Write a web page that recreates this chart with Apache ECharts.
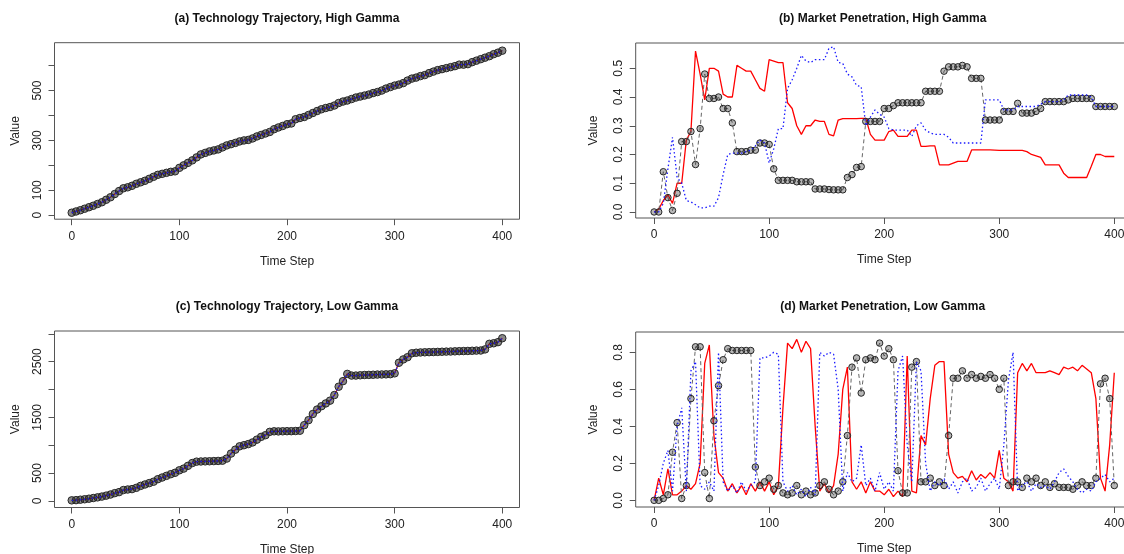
<!DOCTYPE html>
<html>
<head>
<meta charset="utf-8">
<script src="https://cdn.jsdelivr.net/npm/echarts@6/dist/echarts.min.js"></script>
<style>
  html, body { margin: 0; padding: 0; background: #fff; }
  #chart { width: 1124px; height: 554px; }
</style>
</head>
<body>
<div id="chart"></div>
<script>
// values sampled every 4 time steps (t = 0, 4, ..., 400)
const STEP = 4

// (a) technology trajectory, high gamma
const techHigh = [
  10, 15, 20, 26, 32, 38, 45, 52, 62, 72,
  85, 97, 108, 112, 118, 126, 132, 138, 146, 154,
  162, 166, 170, 174, 176, 190, 200, 210, 220, 232,
  244, 250, 256, 260, 264, 272, 280, 285, 290, 296,
  300, 302, 308, 316, 322, 328, 334, 345, 352, 358,
  365, 368, 385, 390, 394, 402, 410, 418, 425, 430,
  434, 440, 450, 456, 460, 466, 472, 476, 480, 484,
  490, 494, 500, 508, 514, 520, 524, 530, 540, 548,
  552, 558, 562, 570, 576, 582, 586, 590, 594, 598,
  604, 604, 606, 614, 620, 626, 632, 638, 646, 652,
  660
]

// (c) technology trajectory, low gamma
const techLow = [
  10, 14, 22, 30, 40, 52, 64, 78, 95, 115,
  140, 158, 195, 205, 212, 235, 270, 295, 320, 345,
  390, 420, 450, 480, 505, 550, 580, 630, 680, 705,
  708, 710, 712, 715, 718, 722, 760, 850, 920, 980,
  1000, 1020, 1050, 1100, 1150, 1180, 1240, 1250, 1248, 1250,
  1252, 1252, 1255, 1260, 1360, 1450, 1560, 1640, 1700, 1750,
  1800, 1900, 2050, 2150, 2280, 2250, 2250, 2255, 2260, 2262,
  2265, 2268, 2270, 2272, 2275, 2290, 2480, 2540, 2580, 2650,
  2660, 2665, 2668, 2670, 2672, 2675, 2678, 2680, 2682, 2685,
  2688, 2690, 2692, 2695, 2698, 2700, 2720, 2820, 2830, 2850,
  2920
]

// (b) market penetration, high gamma
const blackHigh = [
  0, 0, 0.14, 0.05, 0.005, 0.065, 0.245, 0.245, 0.28, 0.165,
  0.29, 0.48, 0.395, 0.395, 0.4, 0.36, 0.36, 0.31, 0.21, 0.21,
  0.21, 0.215, 0.215, 0.24, 0.24, 0.235, 0.15, 0.11, 0.11, 0.11,
  0.11, 0.105, 0.105, 0.105, 0.105, 0.08, 0.08, 0.08, 0.078, 0.077,
  0.077, 0.077, 0.12, 0.13, 0.155, 0.158, 0.315, 0.315, 0.315, 0.315,
  0.36, 0.36, 0.37, 0.38, 0.38, 0.38, 0.38, 0.38, 0.38, 0.42,
  0.42, 0.42, 0.42, 0.49, 0.505, 0.505, 0.505, 0.51, 0.505, 0.465,
  0.465, 0.465, 0.32, 0.32, 0.32, 0.32, 0.35, 0.35, 0.35, 0.378,
  0.344, 0.344, 0.344, 0.35, 0.36, 0.384, 0.384, 0.384, 0.384, 0.384,
  0.39, 0.395, 0.395, 0.395, 0.395, 0.395, 0.367, 0.367, 0.367, 0.367,
  0.367
]
const redHigh = [
  0, 0.01, 0.04, 0.06, 0.03, 0.1, 0.1, 0.25, 0.28, 0.56,
  0.48, 0.39, 0.5, 0.5, 0.49, 0.41, 0.4, 0.4, 0.51, 0.5,
  0.49, 0.49, 0.46, 0.43, 0.42, 0.53, 0.525, 0.52, 0.52, 0.38,
  0.36, 0.3, 0.27, 0.3, 0.3, 0.32, 0.315, 0.315, 0.27, 0.265,
  0.32, 0.325, 0.325, 0.325, 0.325, 0.326, 0.326, 0.27, 0.25, 0.25,
  0.25, 0.28, 0.285, 0.263, 0.263, 0.263, 0.285, 0.285, 0.228, 0.228,
  0.23, 0.23, 0.164, 0.164, 0.164, 0.17, 0.176, 0.176, 0.176, 0.216,
  0.216, 0.216, 0.216, 0.216, 0.215, 0.214, 0.214, 0.214, 0.214, 0.214,
  0.214, 0.21, 0.2, 0.195, 0.19, 0.164, 0.164, 0.164, 0.164, 0.135,
  0.12, 0.12, 0.12, 0.12, 0.12, 0.159, 0.2, 0.2, 0.193, 0.193,
  0.193
]
const blueHigh = [
  0, 0, 0.03, 0.15, 0.26, 0.12, 0.1, 0.04, 0.035, 0.025,
  0.014, 0.014, 0.02, 0.02, 0.05, 0.13, 0.2, 0.205, 0.205, 0.205,
  0.21, 0.215, 0.23, 0.25, 0.24, 0.17, 0.22, 0.29, 0.29, 0.43,
  0.46, 0.5, 0.545, 0.525, 0.52, 0.53, 0.53, 0.53, 0.57, 0.575,
  0.52, 0.517, 0.48, 0.47, 0.44, 0.436, 0.3, 0.33, 0.355, 0.34,
  0.33, 0.29, 0.285, 0.285, 0.285, 0.285, 0.263, 0.3, 0.31, 0.285,
  0.275, 0.27, 0.27, 0.27, 0.26, 0.24, 0.24, 0.24, 0.24, 0.24,
  0.24, 0.24, 0.39, 0.39, 0.39, 0.39, 0.355, 0.355, 0.355, 0.367,
  0.367, 0.367, 0.367, 0.367, 0.375, 0.384, 0.384, 0.384, 0.384, 0.39,
  0.407, 0.407, 0.407, 0.407, 0.407, 0.4, 0.367, 0.367, 0.367, 0.367,
  0.367
]

// (d) market penetration, low gamma
const blackLow = [
  0, 0, 0.01, 0.03, 0.26, 0.42, 0.01, 0.08, 0.55, 0.83,
  0.83, 0.15, 0.01, 0.43, 0.62, 0.76, 0.82, 0.81, 0.81, 0.81,
  0.81, 0.81, 0.18, 0.08, 0.1, 0.12, 0.06, 0.08, 0.04, 0.03,
  0.04, 0.08, 0.03, 0.05, 0.03, 0.04, 0.08, 0.1, 0.06, 0.03,
  0.05, 0.1, 0.35, 0.72, 0.77, 0.58, 0.76, 0.77, 0.76, 0.85,
  0.78, 0.82, 0.76, 0.16, 0.04, 0.04, 0.72, 0.75, 0.1, 0.1,
  0.12, 0.08, 0.1, 0.08, 0.35, 0.66, 0.66, 0.7, 0.66, 0.68,
  0.66, 0.67, 0.66, 0.68, 0.66, 0.6, 0.66, 0.08, 0.1, 0.1,
  0.07, 0.12, 0.1, 0.12, 0.08, 0.1, 0.07, 0.09, 0.07, 0.07,
  0.07, 0.06, 0.08, 0.1, 0.08, 0.08, 0.12, 0.63, 0.66, 0.55,
  0.08
]
const redLow = [
  0, 0.12, 0.03, 0.17, 0.03, 0.03, 0.05, 0.08, 0.06, 0.09,
  0.2, 0.74, 0.84, 0.35, 0.15, 0.12, 0.05, 0.09, 0.04, 0.08,
  0.03, 0.09, 0.05, 0.1, 0.05, 0.1, 0.03, 0.08, 0.5, 0.85,
  0.82, 0.87, 0.8, 0.86, 0.82, 0.4, 0.05, 0.09, 0.04, 0.08,
  0.25, 0.6, 0.72, 0.1, 0.06, 0.1, 0.04, 0.1, 0.05, 0.05,
  0.03, 0.06, 0.02, 0.05, 0.02, 0.78, 0.05, 0.04, 0.35, 0.3,
  0.55, 0.73, 0.75, 0.75, 0.25, 0.15, 0.12, 0.13, 0.1, 0.16,
  0.11, 0.14, 0.12, 0.15, 0.12, 0.27, 0.12, 0.1, 0.05, 0.69,
  0.74, 0.7, 0.74, 0.69, 0.69, 0.69, 0.7, 0.69, 0.68, 0.72,
  0.71, 0.72, 0.7, 0.73, 0.71, 0.69, 0.55, 0.12, 0.05, 0.3,
  0.69
]
const blueLow = [
  0, 0.08, 0.2, 0.27, 0.05, 0.4, 0.5, 0.05, 0.7, 0.75,
  0.08, 0.06, 0.1, 0.05, 0.8, 0.1, 0.05, 0.08, 0.04, 0.1,
  0.05, 0.08, 0.1, 0.77, 0.77, 0.78, 0.8, 0.79, 0.1, 0.05,
  0.08, 0.03, 0.06, 0.02, 0.07, 0.03, 0.8, 0.78, 0.8, 0.79,
  0.6, 0.05, 0.15, 0.1, 0.12, 0.3, 0.08, 0.12, 0.05, 0.15,
  0.06, 0.1, 0.05, 0.7, 0.78, 0.3, 0.1, 0.75, 0.7, 0.2,
  0.05, 0.1, 0.08, 0.12, 0.06, 0.1, 0.04, 0.1, 0.12, 0.05,
  0.07, 0.12, 0.05, 0.09, 0.12, 0.06, 0.3, 0.65, 0.8, 0.05,
  0.08, 0.1, 0.05, 0.09, 0.07, 0.08, 0.06, 0.1, 0.15, 0.17,
  0.13, 0.1, 0.06, 0.04, 0.06, 0.05, 0.1, 0.12, 0.14, 0.1,
  0.12
]

const xTicks = [0, 100, 200, 300, 400]
const titles = [
  '(a) Technology Trajectory, High Gamma',
  '(b) Market Penetration, High Gamma',
  '(c) Technology Trajectory, Low Gamma',
  '(d) Market Penetration, Low Gamma',
]

const FONT = "'Liberation Sans', Arial, sans-serif"
const INK = '#222'

const pairs = (vals) => vals.map((v, i) => [i * STEP, v])

// plot boxes of the four panels
const boxes = [
  { left: 54.5, top: 42.7, width: 465, height: 176.5 },
  { left: 635.7, top: 43, width: 497, height: 175 },
  { left: 54.5, top: 331, width: 465, height: 176.5 },
  { left: 635.7, top: 332, width: 497, height: 175 },
]

const yAxes = [
  { min: -16, max: 692, ticks: [0, 100, 200, 300, 400, 500, 600], labels: [0, 100, 300, 500], dec: 0 },
  { min: -0.021, max: 0.588, ticks: [0, 0.1, 0.2, 0.3, 0.4, 0.5], labels: [0, 0.1, 0.2, 0.3, 0.4, 0.5], dec: 1 },
  { min: -118, max: 3050, ticks: [0, 500, 1000, 1500, 2000, 2500, 3000], labels: [0, 500, 1500, 2500], dec: 0 },
  { min: -0.036, max: 0.91, ticks: [0, 0.2, 0.4, 0.6, 0.8], labels: [0, 0.2, 0.4, 0.6, 0.8], dec: 1 },
]

const panelData = [
  [techHigh, techHigh, techHigh],
  [blackHigh, redHigh, blueHigh],
  [techLow, techLow, techLow],
  [blackLow, redLow, blueLow],
]

const series = []
panelData.forEach(([black, red, blue], i) => {
  const traj = i % 2 === 0
  series.push({
    type: 'line', xAxisIndex: i, yAxisIndex: i, data: pairs(red),
    showSymbol: false, lineStyle: { color: '#ff0000', width: 1.3 }, z: 2,
  })
  series.push({
    type: 'line', xAxisIndex: i, yAxisIndex: i, data: pairs(black),
    symbol: 'circle', symbolSize: traj ? 7.5 : 6.5, showSymbol: true,
    itemStyle: {
      color: traj ? 'rgba(40,40,40,0.55)' : 'rgba(50,50,50,0.35)',
      borderColor: '#262626', borderWidth: 1,
    },
    lineStyle: { color: '#666', width: 1, type: [4, 3] },
    z: 3,
  })
  series.push({
    type: 'line', xAxisIndex: i, yAxisIndex: i, data: pairs(blue),
    showSymbol: false, lineStyle: { color: '#1a1aff', width: 1.3, type: [1.5, 2.5] }, z: 4,
  })
})

const chart = echarts.init(document.getElementById('chart'), null, { renderer: 'canvas' })

chart.setOption({
  animation: false,
  backgroundColor: '#fff',
  title: titles.map((t, i) => ({
    text: t,
    left: boxes[i].left + (i % 2 ? 247 : 232.5),
    top: i < 2 ? 13 : 301,
    textAlign: 'center',
    padding: 0,
    textStyle: { fontFamily: FONT, fontSize: 12, fontWeight: 'bold', color: '#111' },
  })),
  grid: boxes.map((b) => ({
    ...b, show: true, borderColor: '#555', borderWidth: 1,
    backgroundColor: 'transparent', containLabel: false, outerBoundsMode: 'none',
  })),
  xAxis: boxes.map((b, i) => ({
    type: 'value', gridIndex: i, min: -16, max: 416,
    splitLine: { show: false },
    axisLine: { show: false, onZero: false },
    axisTick: { show: true, length: 6, customValues: xTicks, lineStyle: { color: '#555' } },
    axisLabel: { customValues: xTicks, margin: 11, fontFamily: FONT, fontSize: 12, color: INK },
    name: 'Time Step', nameLocation: 'middle', nameGap: 36,
    nameTextStyle: { fontFamily: FONT, fontSize: 12, color: INK },
  })),
  yAxis: yAxes.map((y, i) => ({
    type: 'value', gridIndex: i, min: y.min, max: y.max,
    splitLine: { show: false },
    axisLine: { show: false, onZero: false },
    axisTick: { show: true, length: 6, customValues: y.ticks, lineStyle: { color: '#555' } },
    axisLabel: {
      customValues: y.labels, rotate: 90, margin: 11,
      formatter: (v) => v.toFixed(y.dec),
      fontFamily: FONT, fontSize: 12, color: INK,
    },
    name: 'Value', nameLocation: 'middle', nameGap: i % 2 ? 36 : 33,
    nameTextStyle: { fontFamily: FONT, fontSize: 12, color: INK },
  })),
  series,
})
</script>
</body>
</html>
